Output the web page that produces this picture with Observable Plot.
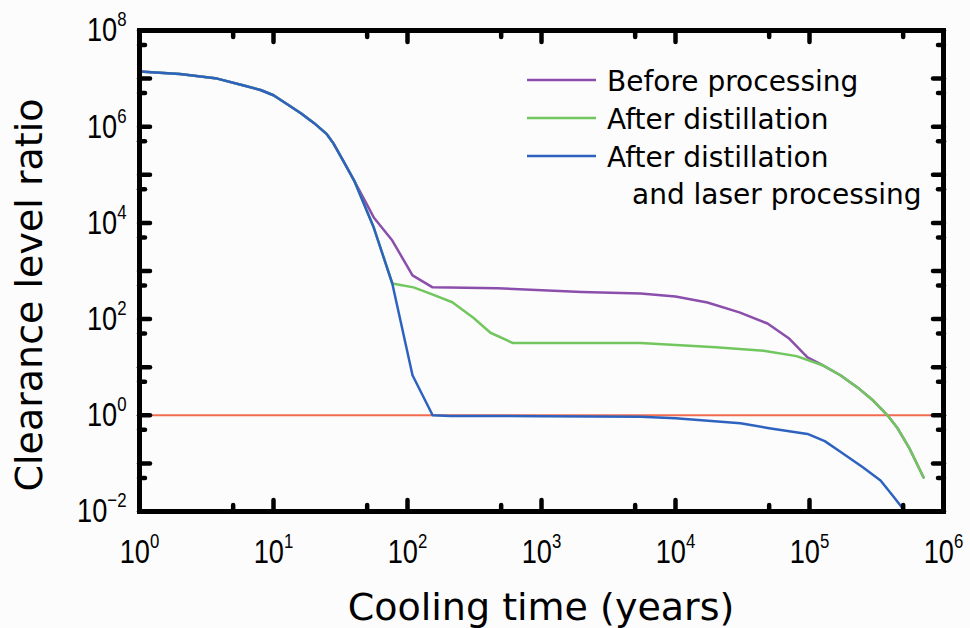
<!DOCTYPE html>
<html>
<head>
<meta charset="utf-8">
<script src="https://cdn.jsdelivr.net/npm/d3@7"></script>
<script src="https://cdn.jsdelivr.net/npm/@observablehq/plot@0.6"></script>
<style>
  html, body { margin: 0; padding: 0; background: #fcfcfd; }
  #chart { width: 970px; height: 628px; }
</style>
</head>
<body>
<div id="chart"></div>
<script>
// ---- data ----
const seriesNames = ["Before processing", "After distillation", "After distillation|and laser processing"];
const seriesColors = ["#8b4fab", "#72c65e", "#2d63bf"];
const limitColor = "#f26c50";
const clearanceLimit = 1;

const yearsBefore = [1, 2, 3.8, 6, 8, 10, 13, 16, 20, 25, 28, 33, 40, 56, 77, 109, 154, 470, 2000, 5480, 10000, 17300, 30000, 48600, 70000, 96600, 125000, 170000, 228000, 300000, 382000, 450000, 560000, 710000];
const ratioBefore = [1.4e7, 1.25e7, 1.0e7, 7.2e6, 5.8e6, 4.5e6, 2.8e6, 1.9e6, 1.2e6, 7.0e5, 4.5e5, 2.0e5, 7.6e4, 1.3e4, 4.3e3, 810, 457, 437, 365, 339, 295, 221, 138, 81, 40, 16, 11, 6.8, 3.8, 2.0, 1.0, 0.56, 0.2, 0.051];

const yearsDistilled = [1, 2, 3.8, 6, 8, 10, 13, 16, 20, 25, 28, 33, 40, 56, 77, 111, 148, 216, 310, 416, 608, 5480, 20000, 45400, 80000, 125000, 170000, 228000, 300000, 382000, 450000, 560000, 710000];
const ratioDistilled = [1.4e7, 1.25e7, 1.0e7, 7.2e6, 5.8e6, 4.5e6, 2.8e6, 1.9e6, 1.2e6, 7.0e5, 4.5e5, 2.0e5, 7.6e4, 8e3, 550, 457, 339, 224, 107, 52, 32, 32, 26, 22, 17, 11, 6.8, 3.8, 2.0, 1.0, 0.56, 0.2, 0.051];

const yearsLaser = [1, 2, 3.8, 6, 8, 10, 13, 16, 20, 25, 28, 33, 40, 56, 77, 109, 154, 209, 1000, 5480, 10000, 30500, 50000, 96600, 130000, 170000, 250000, 339000, 420000, 510000];
const ratioLaser = [1.4e7, 1.25e7, 1.0e7, 7.2e6, 5.8e6, 4.5e6, 2.8e6, 1.9e6, 1.2e6, 7.0e5, 4.5e5, 2.0e5, 7.6e4, 8e3, 550, 6.8, 1.0, 0.97, 0.96, 0.93, 0.87, 0.68, 0.54, 0.41, 0.29, 0.175, 0.083, 0.044, 0.021, 0.0105];

const xMajorTicks = [1, 10, 100, 1e3, 1e4, 1e5, 1e6];
const xMinorTicks = [5, 50, 500, 5e3, 5e4, 5e5];
const yMajorTicks = [1e-2, 1e-1, 1, 10, 100, 1e3, 1e4, 1e5, 1e6, 1e7, 1e8];
const yMinorTicks = [5e-2, 5e-1, 5, 50, 500, 5e3, 5e4, 5e5, 5e6, 5e7];
const yLabelTicks = [1e-2, 1, 1e2, 1e4, 1e6, 1e8];

const xTitle = "Cooling time (years)";
const yTitle = "Clearance level ratio";

// ---- build ----
const toRows = (ts, vs) => ts.map((t, i) => ({t, v: vs[i]}));
const series = [
  toRows(yearsBefore, ratioBefore),
  toRows(yearsDistilled, ratioDistilled),
  toRows(yearsLaser, ratioLaser)
];

const tickFont = "'Liberation Sans', Arial, sans-serif";
const expFmt = d => String(Math.round(Math.log10(d)));
const tickStyle = {stroke: "black", strokeWidth: 4.5, strokeLinecap: "round", fill: "none", label: null};

const chart = Plot.plot({
  width: 970,
  height: 628,
  marginLeft: 139,
  marginRight: 27,
  marginTop: 30,
  marginBottom: 117,
  x: {type: "log", domain: [1, 1e6], label: null},
  y: {type: "log", domain: [1e-2, 1e8], label: null},
  style: {background: "#fcfcfd", fontFamily: tickFont, fontSize: "34px", color: "black"},
  marks: [
    Plot.ruleY([clearanceLimit], {stroke: limitColor, strokeWidth: 2}),
    ...series.map((rows, i) => Plot.line(rows, {x: "t", y: "v", stroke: seriesColors[i], strokeWidth: 2.5, strokeLinejoin: "round", clip: true})),
    Plot.frame({stroke: "black", strokeWidth: 5}),
    // ticks on all four sides, pointing inward
    ...["bottom", "top"].flatMap(a => [
      Plot.axisX({anchor: a, ticks: xMajorTicks, tickSize: -11, ...tickStyle}),
      Plot.axisX({anchor: a, ticks: xMinorTicks, tickSize: -6, ...tickStyle})
    ]),
    ...["left", "right"].flatMap(a => [
      Plot.axisY({anchor: a, ticks: yMajorTicks, tickSize: -11, ...tickStyle}),
      Plot.axisY({anchor: a, ticks: yMinorTicks, tickSize: -6, ...tickStyle})
    ]),
    // tick labels
    Plot.axisX({anchor: "bottom", ticks: xMajorTicks, tickSize: 0, tickPadding: 27, tickFormat: expFmt, label: null, fill: "black"}),
    Plot.axisY({anchor: "left", ticks: yLabelTicks, tickSize: 0, tickPadding: 13, tickFormat: expFmt, label: null, fill: "black"})
  ]
});

document.getElementById("chart").appendChild(chart);

// superscript tick labels: 10^n, horizontally condensed like the reference
const svg = d3.select(chart);
svg.selectAll('g[aria-label="x-axis tick label"] text, g[aria-label="y-axis tick label"] text').each(function() {
  const e = this.textContent.replace("-", "\u2212");
  const t = d3.select(this);
  t.text(null);
  t.append("tspan").text("10");
  t.append("tspan").attr("dy", -15).attr("font-size", 21).text(e);
  const tr = t.attr("transform") || "";
  t.attr("transform", tr + " scale(0.8,1)");
});

// axis titles
const titleFont = "'DejaVu Sans', sans-serif";
svg.append("text")
  .attr("x", 541).attr("y", 620)
  .attr("text-anchor", "middle")
  .attr("font-family", titleFont).attr("font-size", 38)
  .attr("fill", "black")
  .text(xTitle);
svg.append("text")
  .attr("transform", "translate(42,295) rotate(-90)")
  .attr("text-anchor", "middle")
  .attr("font-family", titleFont).attr("font-size", 38)
  .attr("fill", "black")
  .text(yTitle);

// legend
const leg = svg.append("g").attr("font-family", titleFont).attr("font-size", 28)
  .attr("fill", "black").attr("text-anchor", "start");
seriesNames.forEach((name, i) => {
  const y = 80 + i * 38;
  leg.append("line").attr("x1", 527).attr("x2", 596).attr("y1", y).attr("y2", y)
    .attr("stroke", seriesColors[i]).attr("stroke-width", 2.5);
  name.split("|").forEach((part, j) => {
    leg.append("text").attr("x", j === 0 ? 607 : 632).attr("y", y + 11 + j * 37).text(part);
  });
});
</script>
</body>
</html>
